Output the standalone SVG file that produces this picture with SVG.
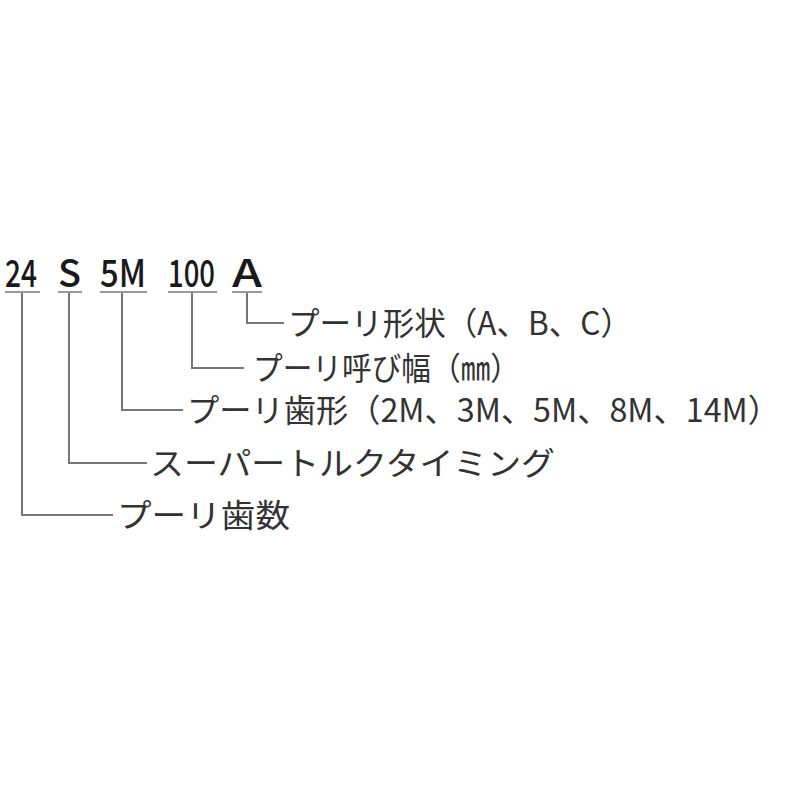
<svg xmlns="http://www.w3.org/2000/svg" width="800" height="800" viewBox="0 0 800 800">
<style>
.code{font-family:"Noto Sans CJK JP",sans-serif;font-size:38px;font-weight:500;fill:#1a1a1a;}
.lbl{font-family:"Noto Sans CJK JP",sans-serif;font-size:32px;fill:#333;}
.ul{stroke:#999;stroke-width:2;fill:none;}
.ln{stroke:#777;stroke-width:2;fill:none;}
</style>
<rect width="800" height="800" fill="#fff"/>
<g id="code">
<text class="code" x="5" y="287" textLength="32" lengthAdjust="spacingAndGlyphs">24</text>
<text class="code" x="58" y="287" textLength="23" lengthAdjust="spacingAndGlyphs">S</text>
<text class="code" x="100" y="287" textLength="46" lengthAdjust="spacingAndGlyphs">5M</text>
<text class="code" x="168" y="287" textLength="47" lengthAdjust="spacingAndGlyphs">100</text>
<text class="code" x="232" y="287" textLength="30" lengthAdjust="spacingAndGlyphs">A</text>
<path class="ul" d="M5 292H40M58 292H82M100 292H147M168 292H217M232 292H262"/>
</g>
<g id="connectors">
<path class="ln" d="M247 293V323H284"/>
<path class="ln" d="M192 293V368H244"/>
<path class="ln" d="M122 293V410H183"/>
<path class="ln" d="M69 293V463H147"/>
<path class="ln" d="M22 293V515H113"/>
</g>
<g id="n1"><text class="lbl" x="288" y="335" textLength="344" lengthAdjust="spacingAndGlyphs">プーリ形状（A、B、C）</text></g>
<g id="n2"><text class="lbl" x="253" y="380" textLength="267" lengthAdjust="spacingAndGlyphs">プーリ呼び幅（㎜）</text></g>
<g id="n3"><text class="lbl" x="187" y="422" textLength="593" lengthAdjust="spacingAndGlyphs">プーリ歯形（2M、3M、5M、8M、14M）</text></g>
<g id="n4"><text class="lbl" x="150" y="475" textLength="405" lengthAdjust="spacingAndGlyphs">スーパートルクタイミング</text></g>
<g id="n5"><text class="lbl" x="117" y="527" textLength="173" lengthAdjust="spacingAndGlyphs">プーリ歯数</text></g>
</svg>
